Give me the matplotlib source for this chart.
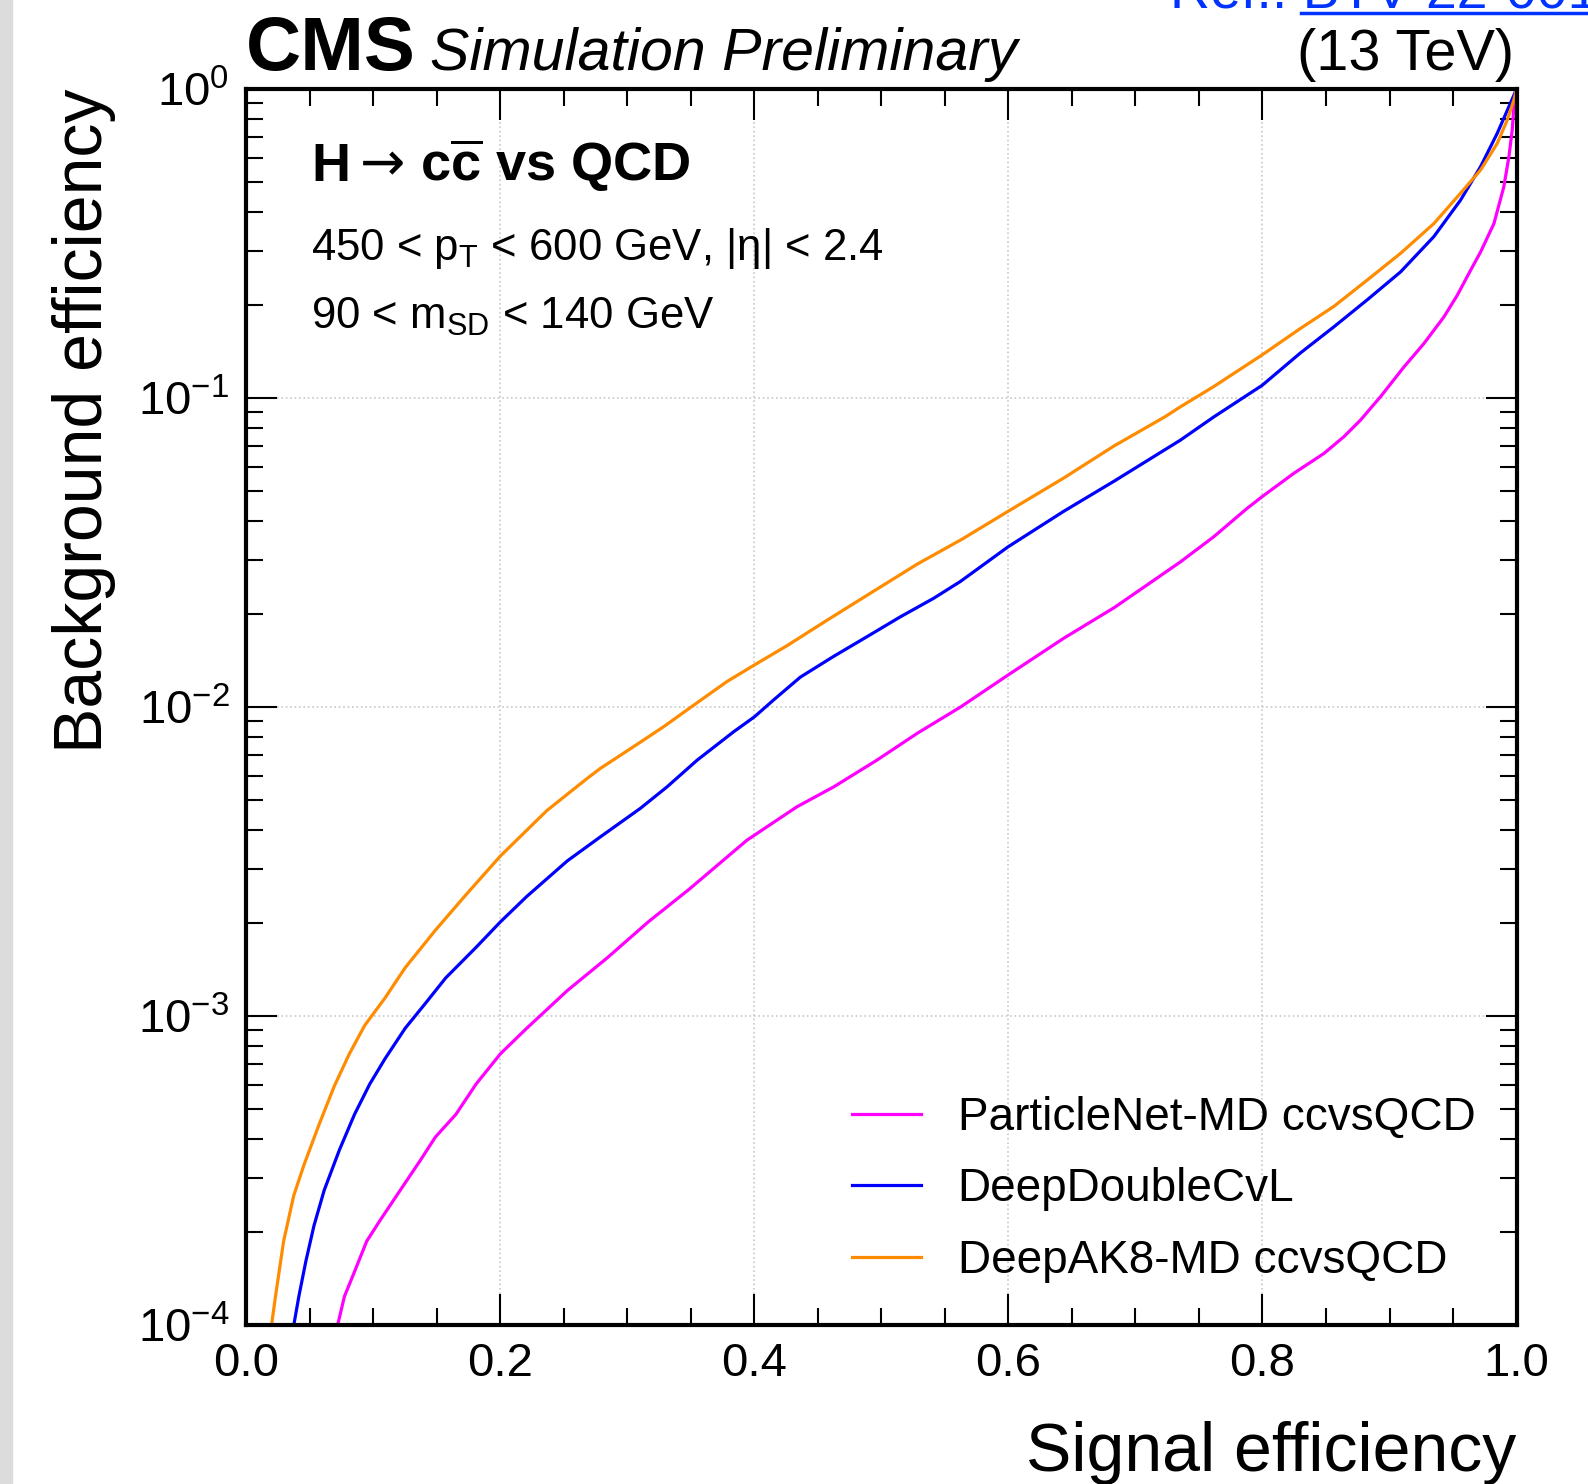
import numpy as np
import matplotlib
matplotlib.use('Agg')
import matplotlib.pyplot as plt
from matplotlib.ticker import MultipleLocator, LogLocator, NullFormatter
from matplotlib.lines import Line2D
from matplotlib.patches import Rectangle

plt.rcParams['font.family'] = ['Liberation Sans', 'DejaVu Sans']
plt.rcParams['mathtext.fontset'] = 'custom'
plt.rcParams['mathtext.rm'] = 'Liberation Sans'
plt.rcParams['mathtext.it'] = 'Liberation Sans:italic'
plt.rcParams['mathtext.bf'] = 'Liberation Sans:bold'

# ROC curves (signal eff, background eff)
pnet_x = [0.072, 0.0774, 0.0853, 0.0949, 0.1053, 0.1212, 0.1372, 0.1491, 0.1651, 0.181, 0.2002,
          0.2209, 0.2528, 0.2847, 0.3166, 0.3485, 0.3942, 0.4336, 0.4625, 0.4966, 0.5281, 0.5622,
          0.5997, 0.6435, 0.6834, 0.7354, 0.7617, 0.788, 0.7998, 0.8247, 0.8484, 0.8641, 0.8772,
          0.8929, 0.9113, 0.927, 0.9428, 0.9533, 0.9638, 0.9717, 0.9822, 0.990, 0.994, 0.9966,
          0.9979, 1.0]
pnet_y = [1.0e-4, 1.24e-4, 1.49e-4, 1.87e-4, 2.18e-4, 2.73e-4, 3.42e-4, 4.07e-4, 4.81e-4, 6.03e-4, 7.56e-4,
          9.14e-4, 1.21e-3, 1.55e-3, 2.02e-3, 2.57e-3, 3.71e-3, 4.76e-3, 5.52e-3, 6.74e-3, 8.22e-3, 1.0e-2,
          1.27e-2, 1.67e-2, 2.10e-2, 2.95e-2, 3.56e-2, 4.40e-2, 4.80e-2, 5.71e-2, 6.62e-2, 7.50e-2, 8.49e-2,
          0.101, 0.126, 0.150, 0.183, 0.215, 0.259, 0.297, 0.367, 0.483, 0.604, 0.737,
          0.877, 1.0]

ddcvl_x = [0.0375, 0.0415, 0.047, 0.0534, 0.0614, 0.0734, 0.0853, 0.0973, 0.1093, 0.1252, 0.1411,
           0.1571, 0.181, 0.2002, 0.2209, 0.2528, 0.2787, 0.3102, 0.3313, 0.3549, 0.3837, 0.4002,
           0.4152, 0.4362, 0.4625, 0.4887, 0.515, 0.5412, 0.5622, 0.5997, 0.6435, 0.6834, 0.7354,
           0.7617, 0.7998, 0.8299, 0.8562, 0.8825, 0.9087, 0.9349, 0.9559, 0.9717, 0.9848, 0.994, 1.0]
ddcvl_y = [1.0e-4, 1.24e-4, 1.61e-4, 2.10e-4, 2.73e-4, 3.69e-4, 4.81e-4, 6.03e-4, 7.28e-4, 9.14e-4, 1.10e-3,
           1.33e-3, 1.67e-3, 2.02e-3, 2.44e-3, 3.18e-3, 3.80e-3, 4.70e-3, 5.52e-3, 6.73e-3, 8.32e-3, 9.31e-3,
           1.055e-2, 1.25e-2, 1.46e-2, 1.69e-2, 1.96e-2, 2.25e-2, 2.55e-2, 3.30e-2, 4.30e-2, 5.39e-2, 7.31e-2,
           8.69e-2, 0.110, 0.140, 0.170, 0.208, 0.256, 0.333, 0.437, 0.561, 0.719, 0.877, 1.0]

dak8_x = [0.020, 0.0231, 0.0295, 0.0375, 0.0455, 0.0574, 0.0694, 0.0813, 0.0933, 0.1093, 0.1252,
          0.1491, 0.173, 0.2002, 0.2368, 0.2687, 0.2787, 0.305, 0.3286, 0.3522, 0.3785, 0.4002,
          0.4257, 0.4572, 0.4887, 0.5281, 0.5638, 0.5997, 0.6435, 0.6834, 0.7233, 0.7354, 0.7617,
          0.7998, 0.8299, 0.8562, 0.8825, 0.9087, 0.9349, 0.9559, 0.9717, 0.9848, 0.9927, 0.9979, 1.0]
dak8_y = [1.0e-4, 1.24e-4, 1.87e-4, 2.63e-4, 3.30e-4, 4.46e-4, 5.94e-4, 7.56e-4, 9.33e-4, 1.145e-3, 1.435e-3,
          1.90e-3, 2.47e-3, 3.30e-3, 4.63e-3, 5.89e-3, 6.33e-3, 7.45e-3, 8.64e-3, 1.014e-2, 1.21e-2, 1.37e-2,
          1.58e-2, 1.91e-2, 2.30e-2, 2.90e-2, 3.50e-2, 4.30e-2, 5.51e-2, 7.01e-2, 8.70e-2, 9.37e-2, 0.109,
          0.138, 0.168, 0.198, 0.241, 0.294, 0.367, 0.460, 0.547, 0.667, 0.794, 0.921, 1.0]

labels = ['ParticleNet-MD ccvsQCD', 'DeepDoubleCvL', 'DeepAK8-MD ccvsQCD']
colors = ['#ff00ff', '#0000ff', '#ff8c00']

fig = plt.figure(figsize=(15.88, 14.84), dpi=100)
ax = fig.add_axes([0.155, 0.107, 0.80, 0.833])

for xs, ys, lab, c in zip([pnet_x, ddcvl_x, dak8_x], [pnet_y, ddcvl_y, dak8_y], labels, colors):
    ax.plot(xs, ys, color=c, lw=2.3, label=lab)

ax.set_yscale('log')
ax.set_xlim(0, 1)
ax.set_ylim(1e-4, 1)
ax.xaxis.set_major_locator(MultipleLocator(0.2))
ax.xaxis.set_minor_locator(MultipleLocator(0.05))
ax.yaxis.set_major_locator(LogLocator(base=10, numticks=10))
ax.yaxis.set_minor_locator(LogLocator(base=10, subs=np.arange(2, 10), numticks=10))
ax.yaxis.set_minor_formatter(NullFormatter())
ax.tick_params(which='both', direction='in', top=True, right=True, width=1.5)
ax.tick_params(which='major', length=22, labelsize=34, pad=12)
ax.tick_params(which='minor', length=12)
for s in ax.spines.values():
    s.set_linewidth(3)
ax.grid(True, which='major', ls=':', color='#c8c8c8', lw=1.2)

ax.set_xlabel('Signal efficiency', fontsize=49, loc='right', labelpad=25)
ax.set_ylabel('Background efficiency', fontsize=49, loc='top', labelpad=16)

ax.text(0.0, 1.015, 'CMS', transform=ax.transAxes, fontsize=55, fontweight='bold', va='baseline')
ax.text(0.145, 1.015, 'Simulation Preliminary', transform=ax.transAxes, fontsize=42.5,
        style='italic', va='baseline')
ax.text(0.998, 1.015, '(13 TeV)', transform=ax.transAxes, fontsize=41.5, ha='right', va='baseline')

# process label, pieced together so the arrow can come from DejaVu
ax.text(0.051, 0.926, 'H', transform=ax.transAxes, fontsize=39, fontweight='bold', va='baseline')
ax.text(0.0893, 0.926, '→', transform=ax.transAxes, fontsize=39, family='DejaVu Sans', va='baseline')
ax.text(0.137, 0.926, r'c$\overline{\mathbf{c}}$ vs QCD', transform=ax.transAxes, fontsize=39,
        fontweight='bold', va='baseline')
ax.text(0.051, 0.871, r'450 < p$_{\mathrm{T}}$ < 600 GeV, |η| < 2.4',
        transform=ax.transAxes, fontsize=31.5, va='center')
ax.text(0.051, 0.816, r'90 < m$_{\mathrm{SD}}$ < 140 GeV',
        transform=ax.transAxes, fontsize=31.5, va='center')

ax.legend(loc='lower right', frameon=False, fontsize=33, handlelength=1.5,
          handletextpad=0.8, labelspacing=0.6, bbox_to_anchor=(1.0, 0.001))

# clipped link text at the top edge and screenshot borders
fig.text(1170 / 1588, 1 - 7 / 1484, 'Ref.: BTV-22-001', fontsize=40, color='#0033ff', va='baseline')
fig.add_artist(Line2D([1301 / 1588, 1.0], [1 - 12.5 / 1484] * 2, color='#0033ff', lw=2.5,
                      transform=fig.transFigure))
fig.add_artist(Rectangle((0, 0), 12 / 1588, 1, color='#dcdcdc', transform=fig.transFigure))

fig.savefig('out.png', dpi=100)
